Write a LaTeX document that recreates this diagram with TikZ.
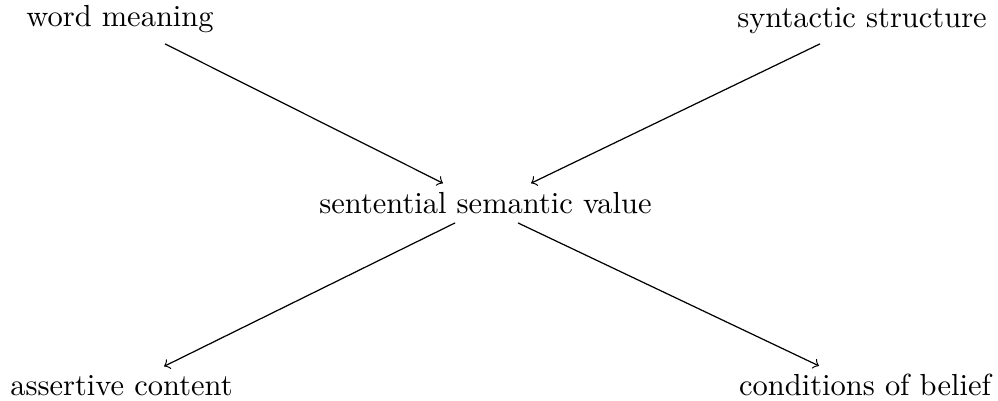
\documentclass[tikz,border=0pt]{standalone}
\begin{document}
\begin{tikzpicture}[x=0.328pt,y=-0.328pt,
  lbl/.style={inner sep=0pt,anchor=base},
  arr/.style={->,line width=0.4pt}]
\useasboundingbox (0,0) rectangle (998,400);
\node[lbl] (wm) at (120,27) {word meaning};
\node[lbl] (ss) at (862,28) {syntactic structure};
\node[lbl] (sv) at (485.5,213) {sentential semantic value};
\node[lbl] (ac) at (121.5,395) {assertive content};
\node[lbl] (cb) at (865,395) {conditions of belief};
\draw[arr] ([shift={(45,10)}]wm.south) -- ([shift={(-42.5,-8)}]sv.north);
\draw[arr] ([shift={(-42,9)}]ss.south) -- ([shift={(45.5,-8)}]sv.north);
\draw[arr] ([shift={(-30.5,9)}]sv.south) -- ([shift={(42.5,-8)}]ac.north);
\draw[arr] ([shift={(32.5,9)}]sv.south) -- ([shift={(-46,-7)}]cb.north);
\end{tikzpicture}
\end{document}
